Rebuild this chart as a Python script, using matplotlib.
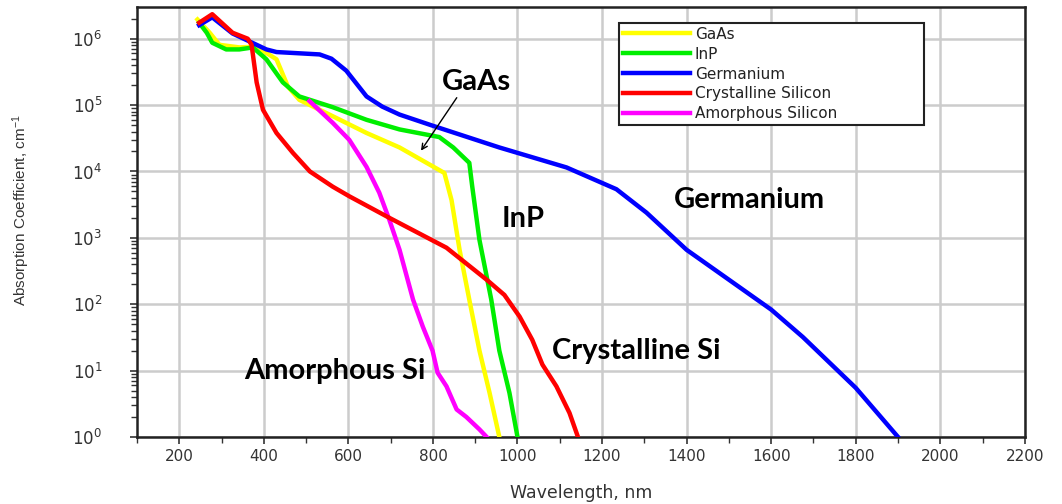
import numpy as np
import matplotlib
matplotlib.use("Agg")
import matplotlib.pyplot as plt
from matplotlib.ticker import MultipleLocator, FixedLocator, NullFormatter

plt.rcParams['font.family'] = ['DejaVu Sans']
plt.rcParams['mathtext.default'] = 'regular'

# wavelength (nm) / absorption coefficient (cm^-1)
gaas_wl = [243, 272, 295, 342, 382, 430, 457, 484, 563, 643, 721, 827, 844, 863, 886, 910, 934, 957]
gaas_a = [1.95e6, 1.23e6, 8.1e5, 7.4e5, 7.6e5, 4.9e5, 1.9e5, 1.2e5, 6.8e4, 3.8e4, 2.3e4,
          9.5e3, 3.7e3, 660, 117, 20, 4.6, 1.0]

inp_wl = [247, 265, 278, 311, 342, 374, 406, 445, 484, 563, 643, 721, 815, 848, 886, 893,
          910, 938, 957, 981, 1000]
inp_a = [1.74e6, 1.23e6, 8.7e5, 6.9e5, 6.9e5, 7.4e5, 4.9e5, 2.2e5, 1.35e5, 9.3e4, 6.0e4,
         4.3e4, 3.3e4, 2.3e4, 1.35e4, 5.9e3, 930, 117, 20, 4.6, 1.0]

ge_wl = [247, 278, 326, 366, 406, 430, 532, 560, 595, 643, 680, 721, 799, 957, 1116, 1234,
         1305, 1400, 1600, 1675, 1800, 1900]
ge_a = [1.6e6, 2.1e6, 1.2e6, 9.1e5, 6.9e5, 6.3e5, 5.8e5, 5.0e5, 3.3e5, 1.35e5, 9.5e4, 7.2e4,
        4.9e4, 2.3e4, 1.15e4, 5.4e3, 2.4e3, 660, 83, 32, 5.5, 1.0]

csi_wl = [247, 278, 326, 362, 371, 383, 398, 430, 469, 509, 563, 603, 697, 832, 927, 969,
          1005, 1035, 1059, 1092, 1123, 1143]
csi_a = [1.74e6, 2.34e6, 1.23e6, 1.0e6, 8.1e5, 2.2e5, 8.5e4, 3.8e4, 1.9e4, 1.0e4, 5.9e3,
         4.2e3, 2.0e3, 710, 234, 138, 65, 29, 12.3, 5.8, 2.3, 1.0]

asi_wl = [508, 563, 602, 643, 673, 697, 721, 753, 776, 799, 811, 832, 856, 879, 910, 927]
asi_a = [1.15e5, 5.4e4, 3.0e4, 1.17e4, 4.8e3, 1.86e3, 660, 117, 46, 20, 9.3, 5.8, 2.6, 2.0, 1.3, 1.0]

y_decades = [1e0, 1e1, 1e2, 1e3, 1e4, 1e5, 1e6]

fig = plt.figure(figsize=(10.62, 5.04), dpi=100)
ax = fig.add_axes([0.129, 0.133, 0.836, 0.853])

lw = 3.2
ax.plot(gaas_wl, gaas_a, color='#ffff00', lw=lw, label='GaAs', zorder=3)
ax.plot(inp_wl, inp_a, color='#00ee00', lw=lw, label='InP', zorder=3)
ax.plot(ge_wl, ge_a, color='#0000ff', lw=lw, label='Germanium', zorder=3)
ax.plot(asi_wl, asi_a, color='#ff00ff', lw=lw, label='Amorphous Silicon', zorder=4)
ax.plot(csi_wl, csi_a, color='#ff0000', lw=lw, label='Crystalline Silicon', zorder=5)

ax.set_yscale('log')
ax.set_xlim(100, 2200)
ax.set_ylim(1, 3.0e6)

ax.xaxis.set_major_locator(MultipleLocator(200))
ax.xaxis.set_minor_locator(MultipleLocator(100))
ax.yaxis.set_major_locator(FixedLocator(y_decades))
minor = [m * d for d in y_decades for m in range(2, 10) if m * d < 3.0e6]
ax.yaxis.set_minor_locator(FixedLocator(minor))
ax.yaxis.set_minor_formatter(NullFormatter())

ax.grid(True, which='major', color='#cccccc', lw=1.8, zorder=0)
ax.set_axisbelow(True)
ax.tick_params(which='both', direction='out', color='#333333', labelcolor='#333333')
ax.tick_params(which='major', length=5, width=1.2)
ax.tick_params(which='minor', length=4, width=1.0)
ax.tick_params(axis='x', pad=4, labelsize=11)
ax.tick_params(axis='y', pad=20, labelsize=12)
for s in ax.spines.values():
    s.set_color('#222222')
    s.set_linewidth(1.8)

ax.set_xlabel('Wavelength, nm', fontsize=12.5, color='#333333', labelpad=14)
ax.set_ylabel('Absorption Coefficient, cm$^{-1}$', fontsize=11, color='#333333',
              family=['Liberation Sans', 'DejaVu Sans'])
ax.yaxis.set_label_coords(-0.118, 0.528)

# legend, same row order as the picture
h, l = ax.get_legend_handles_labels()
order = [0, 1, 2, 4, 3]
leg = ax.legend([h[i] for i in order], [l[i] for i in order],
                loc='upper left', bbox_to_anchor=(0.543, 0.73, 0.343, 0.233), mode='expand',
                borderaxespad=0, fancybox=False, framealpha=1, edgecolor='#222222',
                fontsize=11, handlelength=4.4, handletextpad=0.3, labelspacing=0.32,
                borderpad=0.25)
leg.get_frame().set_linewidth(1.5)
for t in leg.get_texts():
    t.set_color('#222222')

tf = dict(fontfamily=['Lato', 'DejaVu Sans'], fontweight='bold', fontsize=21,
          ha='center', va='center', color='black')
ax.text(903, 2.25e5, 'GaAs', **tf)
ax.text(1014, 1.9e3, 'InP', **tf)
ax.text(1549, 3.7e3, 'Germanium', **tf)
ax.text(1282, 20, 'Crystalline Si', **tf)
ax.text(569, 10, 'Amorphous Si', **tf)
ax.annotate('', xy=(768, 1.9e4), xytext=(860, 1.4e5),
            arrowprops=dict(arrowstyle='->', color='black', lw=1.0))

plt.savefig('out.png', dpi=100)
